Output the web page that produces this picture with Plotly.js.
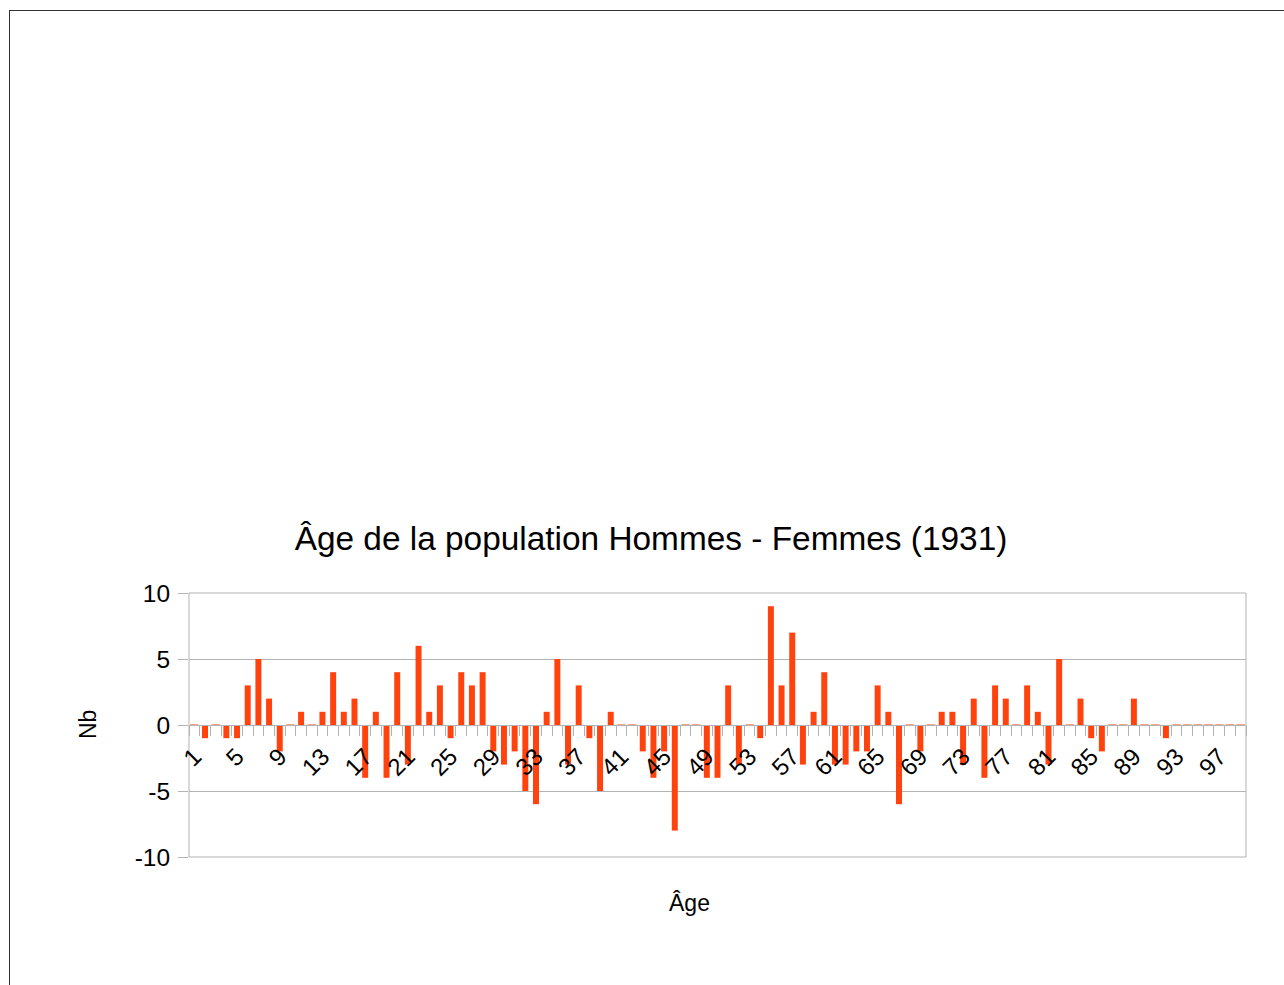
<!DOCTYPE html>
<html>
<head>
<meta charset="utf-8">
<script src="https://cdn.plot.ly/plotly-3.0.1.min.js"></script>
<style>
  body { margin: 0; background: #fff; }
  #frame { position: absolute; left: 9px; top: 10px; width: 1275px; height: 975px;
           border-left: 1px solid #333; border-top: 1px solid #333; }
  #chart { position: absolute; left: 0; top: 0; width: 1284px; height: 985px; }
</style>
</head>
<body>
<div id="frame"></div>
<div id="chart"></div>
<script>
const ages = [];
for (let a = 1; a <= 99; ++a) ages.push(a);

// Hommes - Femmes, par âge
const diff = [
   0, -1,  0, -1, -1,  3,  5,  2, -2,  0,
   1,  0,  1,  4,  1,  2, -4,  1, -4,  4,
  -3,  6,  1,  3, -1,  4,  3,  4, -2, -3,
  -2, -5, -6,  1,  5, -3,  3, -1, -5,  1,
   0,  0, -2, -4, -2, -8,  0,  0, -4, -4,
   3, -3,  0, -1,  9,  3,  7, -3,  1,  4,
  -3, -3, -2, -2,  3,  1, -6,  0, -2,  0,
   1,  1, -3,  2, -4,  3,  2,  0,  3,  1,
  -3,  5,  0,  2, -1, -2,  0,  0,  2,  0,
   0, -1,  0,  0,  0,  0,  0,  0,  0
];

const tickAges = [1, 5, 9, 13, 17, 21, 25, 29, 33, 37, 41, 45, 49, 53, 57, 61, 65, 69, 73, 77, 81, 85, 89, 93, 97];
const yTicks = [-10, -5, 0, 5, 10];
const yLabels = ['-10', '-5', '0', '5', '10'];

const red = '#ff420e';
const grey = '#b3b3b3';

// zero values are still shown as a thin red dash on the axis
const zeroAges = ages.filter((a, i) => diff[i] === 0);
const zeroVals = zeroAges.map(() => 0);

const data = [
  {
    type: 'bar',
    x: ages,
    y: diff,
    marker: {color: red},
    hoverinfo: 'x+y'
  },
  {
    type: 'scatter',
    mode: 'markers',
    x: zeroAges,
    y: zeroVals,
    marker: {symbol: 'line-ew', size: 6, line: {color: red, width: 1}},
    hoverinfo: 'skip'
  }
];

const layout = {
  width: 1284,
  height: 985,
  margin: {l: 189, r: 38, t: 593, b: 128},
  paper_bgcolor: 'rgba(0,0,0,0)',
  plot_bgcolor: 'rgba(0,0,0,0)',
  showlegend: false,
  bargap: 0.44,
  font: {family: 'Liberation Sans, Arial, sans-serif', color: '#000'},
  title: {
    text: 'Âge de la population Hommes - Femmes (1931)',
    font: {size: 33.4, color: '#000'},
    xref: 'container', yref: 'container',
    x: 651 / 1284, xanchor: 'center',
    y: 1 - 538 / 985, yanchor: 'middle'
  },
  xaxis: {
    type: 'linear',
    range: [0.5, 99.5],
    anchor: 'free',
    position: 0.5,
    tickmode: 'array',
    tickvals: tickAges,
    ticktext: tickAges.map(String),
    tickangle: -45,
    tickfont: {size: 24},
    ticks: 'outside',
    ticklen: 7,
    tickcolor: 'rgba(0,0,0,0)',
    minor: {tick0: 0.5, dtick: 1, ticks: 'outside', ticklen: 10, tickcolor: grey, tickwidth: 1, showgrid: false},
    showline: true,
    linecolor: grey,
    linewidth: 1,
    showgrid: false,
    zeroline: false,
    layer: 'above traces',
    fixedrange: true
  },
  yaxis: {
    range: [-10, 10],
    tickmode: 'array',
    tickvals: yTicks,
    ticktext: yLabels,
    tickfont: {size: 24.5},
    ticks: 'outside',
    ticklen: 10,
    tickcolor: grey,
    ticklabelstandoff: 3,
    gridcolor: grey,
    zeroline: false,
    showline: false,
    fixedrange: true
  },
  shapes: [
    {type: 'rect', xref: 'paper', yref: 'paper', x0: 0, x1: 1, y0: 0, y1: 1,
     line: {color: grey, width: 1}, layer: 'below'}
  ],
  annotations: [
    {text: 'Âge', xref: 'paper', yref: 'paper', x: (689 - 189) / 1057, y: (857 - 903) / 264,
     showarrow: false, font: {size: 23}, xanchor: 'center', yanchor: 'middle'},
    {text: 'Nb', xref: 'paper', yref: 'paper', x: (88 - 189) / 1057, y: 0.5, textangle: -90,
     showarrow: false, font: {size: 23}, xanchor: 'center', yanchor: 'middle'}
  ]
};

Plotly.newPlot('chart', data, layout, {displayModeBar: false, staticPlot: true});
</script>
</body>
</html>
